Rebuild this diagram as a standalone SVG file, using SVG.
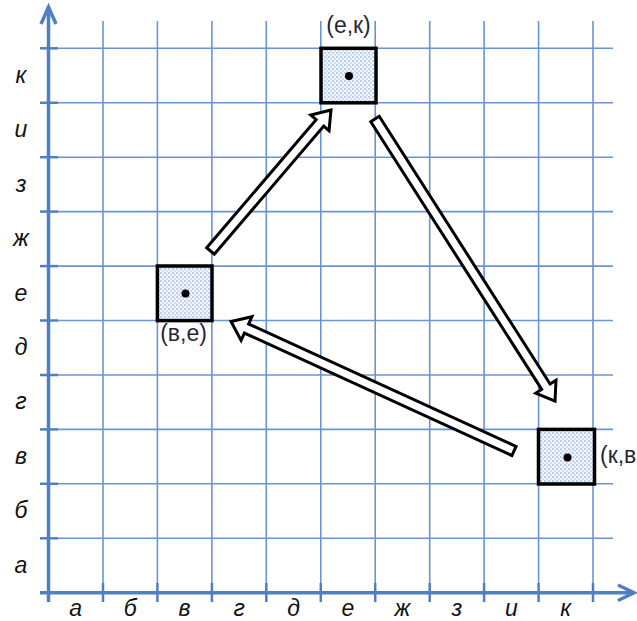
<svg xmlns="http://www.w3.org/2000/svg" width="637" height="621" viewBox="0 0 637 621">
<defs>
<pattern id="dots" width="4" height="4" patternUnits="userSpaceOnUse">
<rect width="4" height="4" fill="#f2f6fc"/>
<circle cx="1" cy="1" r="0.75" fill="#6f96d2"/>
<circle cx="3" cy="3" r="0.65" fill="#8fb0e0"/>
</pattern>
</defs>
<style>
.grid{stroke:#6a94d2;stroke-width:1.6;fill:none}
.axis{stroke:#4f7fc0;stroke-width:3.5;fill:none}
.tick{stroke:#4f7fc0;stroke-width:2.5;fill:none}
.lbl{font-family:"Liberation Sans",Arial,sans-serif;font-style:italic;font-size:23px;fill:#111;text-anchor:middle}
.nlbl{font-family:"Liberation Sans",Arial,sans-serif;font-size:23px;fill:#262636}
.box{fill:url(#dots);stroke:#000;stroke-width:3.5}
.arr{fill:#fff;stroke:#000;stroke-width:3;stroke-linejoin:miter}
</style>
<rect width="637" height="621" fill="#fff"/>
<g id="grid">
<g class="grid">
<line x1="103" y1="21" x2="103" y2="583"/>
<line x1="157.4" y1="21" x2="157.4" y2="583"/>
<line x1="211.9" y1="21" x2="211.9" y2="583"/>
<line x1="266.3" y1="21" x2="266.3" y2="583"/>
<line x1="320.8" y1="21" x2="320.8" y2="583"/>
<line x1="375.2" y1="21" x2="375.2" y2="583"/>
<line x1="429.7" y1="21" x2="429.7" y2="583"/>
<line x1="484.1" y1="21" x2="484.1" y2="583"/>
<line x1="538.6" y1="21" x2="538.6" y2="583"/>
<line x1="593" y1="21" x2="593" y2="583"/>
<line x1="58" y1="538.3" x2="613" y2="538.3"/>
<line x1="58" y1="483.8" x2="613" y2="483.8"/>
<line x1="58" y1="429.4" x2="613" y2="429.4"/>
<line x1="58" y1="375" x2="613" y2="375"/>
<line x1="58" y1="320.5" x2="613" y2="320.5"/>
<line x1="58" y1="266.1" x2="613" y2="266.1"/>
<line x1="58" y1="211.6" x2="613" y2="211.6"/>
<line x1="58" y1="157.2" x2="613" y2="157.2"/>
<line x1="58" y1="102.8" x2="613" y2="102.8"/>
<line x1="58" y1="48.3" x2="613" y2="48.3"/>
</g>
<g class="tick">
<line x1="40" y1="538.3" x2="58" y2="538.3"/>
<line x1="40" y1="483.8" x2="58" y2="483.8"/>
<line x1="40" y1="429.4" x2="58" y2="429.4"/>
<line x1="40" y1="375" x2="58" y2="375"/>
<line x1="40" y1="320.5" x2="58" y2="320.5"/>
<line x1="40" y1="266.1" x2="58" y2="266.1"/>
<line x1="40" y1="211.6" x2="58" y2="211.6"/>
<line x1="40" y1="157.2" x2="58" y2="157.2"/>
<line x1="40" y1="102.8" x2="58" y2="102.8"/>
<line x1="40" y1="48.3" x2="58" y2="48.3"/>
<line x1="103" y1="583" x2="103" y2="602"/>
<line x1="157.4" y1="583" x2="157.4" y2="602"/>
<line x1="211.9" y1="583" x2="211.9" y2="602"/>
<line x1="266.3" y1="583" x2="266.3" y2="602"/>
<line x1="320.8" y1="583" x2="320.8" y2="602"/>
<line x1="375.2" y1="583" x2="375.2" y2="602"/>
<line x1="429.7" y1="583" x2="429.7" y2="602"/>
<line x1="484.1" y1="583" x2="484.1" y2="602"/>
<line x1="538.6" y1="583" x2="538.6" y2="602"/>
<line x1="593" y1="583" x2="593" y2="602"/>
</g>
<g class="axis">
<line x1="48.5" y1="602" x2="48.5" y2="7"/>
<line x1="40" y1="592.7" x2="634" y2="592.7"/>
<polyline points="41,24 48.5,7 56,24" stroke-linejoin="miter"/>
<polyline points="618,585 634,592.7 618,600.5" stroke-linejoin="miter"/>
</g>
</g>
<g id="labels">
<text class="lbl" x="21" y="83">к</text>
<text class="lbl" x="21" y="137">и</text>
<text class="lbl" x="21" y="191.5">з</text>
<text class="lbl" x="21" y="246">ж</text>
<text class="lbl" x="21" y="300.5">е</text>
<text class="lbl" x="21" y="355">д</text>
<text class="lbl" x="21" y="409">г</text>
<text class="lbl" x="21" y="463.5">в</text>
<text class="lbl" x="21" y="518">б</text>
<text class="lbl" x="21" y="572.5">а</text>
<text class="lbl" x="75.7" y="616">а</text>
<text class="lbl" x="130.2" y="616">б</text>
<text class="lbl" x="184.6" y="616">в</text>
<text class="lbl" x="239.1" y="616">г</text>
<text class="lbl" x="293.5" y="616">д</text>
<text class="lbl" x="348" y="616">е</text>
<text class="lbl" x="402.4" y="616">ж</text>
<text class="lbl" x="456.9" y="616">з</text>
<text class="lbl" x="511.3" y="616">и</text>
<text class="lbl" x="565.8" y="616">к</text>
</g>
<g id="connectors">
<polygon class="arr" transform="translate(210.5,251) rotate(-49.5)" points="0,-5 168.5,-5 168.5,-12 185.5,0 168.5,12 168.5,5 0,5"/>
<polygon class="arr" transform="translate(375,119) rotate(57.45)" points="0,-5 317.6,-5 317.6,-12 334.6,0 317.6,12 317.6,5 0,5"/>
<polygon class="arr" transform="translate(514,451) rotate(-155.4)" points="0,-5 294.2,-5 294.2,-13 311.2,0 294.2,13 294.2,5 0,5"/>
</g>
<g id="node-ek">
<rect class="box" x="321" y="48.3" width="55" height="54.5"/>
<circle cx="349" cy="76" r="4" fill="#000"/>
<text class="nlbl" x="348.5" y="33" text-anchor="middle">(е,к)</text>
</g>
<g id="node-ve">
<rect class="box" x="157.4" y="266" width="54.6" height="54.6"/>
<circle cx="185.5" cy="293.5" r="4" fill="#000"/>
<text class="nlbl" x="183.5" y="341" text-anchor="middle">(в,е)</text>
</g>
<g id="node-kv">
<rect class="box" x="538.5" y="429.4" width="56" height="54.6"/>
<circle cx="567.5" cy="457.5" r="4" fill="#000"/>
<text class="nlbl" x="600" y="463">(к,в</text>
</g>
</svg>
